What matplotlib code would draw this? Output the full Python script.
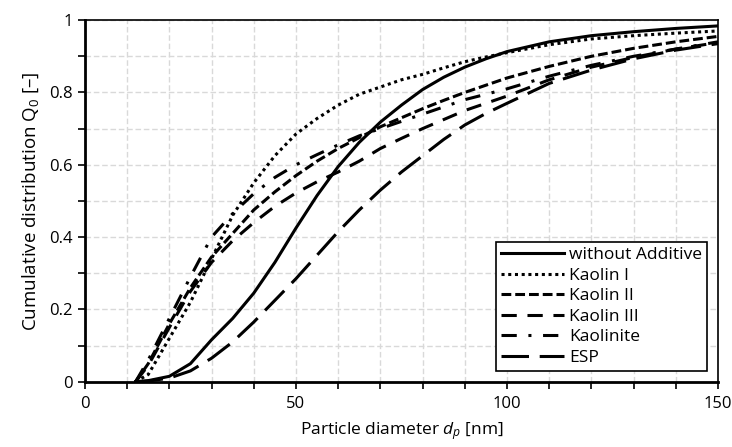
#!/usr/bin/env python
import numpy as np
import matplotlib
matplotlib.use('Agg')
import matplotlib.pyplot as plt
from matplotlib.ticker import MultipleLocator, FuncFormatter

plt.rcParams['font.family'] = ['Open Sans', 'DejaVu Sans']
plt.rcParams['mathtext.fontset'] = 'custom'
plt.rcParams['mathtext.it'] = 'Open Sans:italic'
plt.rcParams['mathtext.rm'] = 'Open Sans'

# particle diameter [nm]
d_p = [12, 15, 20, 25, 30, 35, 40, 45, 50, 55, 60, 65, 70, 75, 80, 85, 90,
       95, 100, 110, 120, 130, 140, 150]

without_additive = [0, 0.003, 0.015, 0.05, 0.116, 0.175, 0.245, 0.33, 0.425,
                    0.515, 0.595, 0.662, 0.718, 0.765, 0.808, 0.842, 0.87,
                    0.893, 0.913, 0.94, 0.957, 0.968, 0.977, 0.984]
kaolin_1 = [0, 0.02, 0.12, 0.22, 0.34, 0.46, 0.55, 0.625, 0.685, 0.728, 0.765,
            0.795, 0.815, 0.835, 0.85, 0.868, 0.885, 0.898, 0.91, 0.932,
            0.948, 0.957, 0.964, 0.97]
kaolin_2 = [0, 0.05, 0.16, 0.26, 0.345, 0.41, 0.475, 0.525, 0.57, 0.61, 0.645,
            0.675, 0.705, 0.73, 0.755, 0.778, 0.80, 0.82, 0.84, 0.872, 0.90,
            0.922, 0.94, 0.955]
kaolin_3 = [0, 0.045, 0.15, 0.25, 0.33, 0.39, 0.44, 0.485, 0.522, 0.553, 0.58,
            0.61, 0.645, 0.673, 0.70, 0.725, 0.75, 0.77, 0.79, 0.835, 0.87,
            0.897, 0.92, 0.938]
kaolinite = [0, 0.06, 0.175, 0.29, 0.40, 0.465, 0.52, 0.565, 0.60, 0.628,
             0.655, 0.68, 0.70, 0.72, 0.74, 0.76, 0.78, 0.795, 0.81, 0.845,
             0.875, 0.90, 0.92, 0.94]
esp = [0, 0.002, 0.01, 0.03, 0.065, 0.11, 0.165, 0.225, 0.285, 0.35, 0.415,
       0.475, 0.53, 0.58, 0.625, 0.67, 0.71, 0.742, 0.77, 0.825, 0.862, 0.893,
       0.917, 0.935]

series = [
    ('without Additive', without_additive, '-'),
    ('Kaolin I', kaolin_1, (0, (1, 1.2))),
    ('Kaolin II', kaolin_2, (0, (3.2, 1.3))),
    ('Kaolin III', kaolin_3, (0, (5, 3.5))),
    ('Kaolinite', kaolinite, (0, (5, 3.8, 1, 3.8))),
    ('ESP', esp, (0, (9, 3.5))),
]


def plot_distribution():
    fig = plt.figure(figsize=(7.32, 4.47), dpi=100)
    ax = fig.add_axes([0.116, 0.146, 0.865, 0.809])

    for name, q0, ls in series:
        ax.plot(d_p, q0, color='black', linewidth=2.2, linestyle=ls,
                label=name)

    ax.set_xlim(0, 150)
    ax.set_ylim(0, 1)
    ax.xaxis.set_major_locator(MultipleLocator(50))
    ax.xaxis.set_minor_locator(MultipleLocator(10))
    ax.yaxis.set_major_locator(MultipleLocator(0.2))
    ax.yaxis.set_minor_locator(MultipleLocator(0.1))
    ax.yaxis.set_major_formatter(FuncFormatter(lambda v, p: '%g' % round(v, 1)))

    ax.grid(which='both', color='#d9d9d9', linestyle=(0, (4, 2)), linewidth=1)
    ax.set_axisbelow(True)
    ax.tick_params(which='both', direction='out', width=1.2, labelsize=12,
                   color='black', length=5)
    ax.tick_params(axis='x', pad=5)

    for side in ['left', 'bottom']:
        ax.spines[side].set_linewidth(2)
    for side in ['top', 'right']:
        ax.spines[side].set_linewidth(1.2)

    ax.set_xlabel('Particle diameter $d_p$ [nm]', fontsize=12.5, labelpad=6)
    ax.set_ylabel('Cumulative distribution Q$_0$ [\u2013]', fontsize=13.5,
                  labelpad=6)

    leg = ax.legend(loc='lower right', bbox_to_anchor=(0.983, 0.03),
                    borderaxespad=0, fontsize=12.5, handlelength=3.6,
                    handletextpad=0.3, labelspacing=0.25, borderpad=0.3,
                    fancybox=False, framealpha=1, edgecolor='black')
    leg.get_frame().set_linewidth(1.2)

    plt.savefig('out.png', dpi=100)


if __name__ == "__main__":
    plot_distribution()
